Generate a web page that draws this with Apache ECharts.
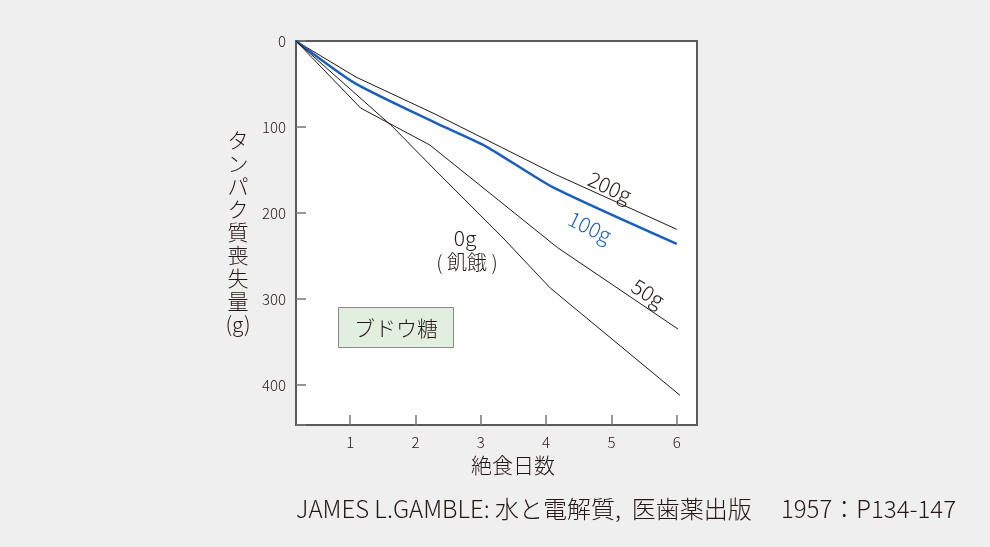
<!DOCTYPE html>
<html>
<head>
<meta charset="utf-8">
<script src="https://cdn.jsdelivr.net/npm/echarts@6/dist/echarts.min.js"></script>
<style>
html,body{margin:0;padding:0;background:#efefef;}
#c{width:990px;height:547px;}
</style>
</head>
<body>
<div id="c"></div>
<script>
// ---- data (days of fasting, protein loss in g) ----
const xTicks = [1, 2, 3, 4, 5, 6];
const yTicks = [0, 100, 200, 300, 400];

const days200 = [0.17, 1.09, 2.30, 4.14, 6.00];
const loss200 = [0, 42, 85, 155, 219];

const days100 = [0.17, 1.07, 2.30, 3.09, 4.10, 6.00];
const loss100 = [0, 49, 95, 123, 170, 236];

const days50 = [0.17, 1.16, 2.22, 4.17, 6.02];
const loss50 = [0, 78, 121, 240, 335];

const days0 = [0.17, 1.64, 2.30, 3.34, 4.06, 6.05];
const loss0 = [0, 99, 150, 229, 287, 412];

const seriesNames = ['200g', '100g', '50g', '0g'];
const xTitle = '絶食日数';
const yTitle = ['タ','ン','パ','ク','質','喪','失','量','(g)'];
const legendText = 'ブドウ糖';
const sourceText = 'JAMES L.GAMBLE: 水と電解質,  医歯薬出版　 1957：P134-147';

const pair = (xs, ys) => xs.map((x, i) => [x, ys[i]]);

const FONT = '"Noto Sans CJK JP", "Noto Sans", sans-serif';
const INK = '#231815';
const BLUE = '#1a5fbd';
const W = '300 ';

const chart = echarts.init(document.getElementById('c'), null, {renderer: 'canvas'});
chart.setOption({
  backgroundColor: '#efefef',
  animation: false,
  textStyle: {fontFamily: FONT, color: INK},
  grid: {
    left: 296, top: 41, right: 293, bottom: 122,
    show: true, backgroundColor: '#ffffff', borderColor: '#5a5a5a', borderWidth: 2
  },
  xAxis: {
    type: 'value', min: 0.17, max: 6.31, position: 'bottom',
    axisLine: {show: false, onZero: false},
    splitLine: {show: false},
    axisTick: {show: true, inside: true, length: 10, customValues: xTicks, lineStyle: {color: '#777', width: 1.5}},
    axisLabel: {customValues: xTicks, fontSize: 15, color: INK, margin: 10, fontFamily: FONT, fontWeight: 300}
  },
  yAxis: {
    type: 'value', inverse: true, min: 0, max: 446.5, interval: 100,
    axisLine: {show: false, onZero: false},
    splitLine: {show: false},
    axisTick: {show: true, inside: true, length: 10, lineStyle: {color: '#777', width: 1.5}},
    axisLabel: {fontSize: 15, color: INK, margin: 10, fontFamily: FONT, fontWeight: 300,
      formatter: v => (yTicks.indexOf(v) >= 0 ? String(v) : '')}
  },
  series: [
    {name: seriesNames[0], type: 'line', data: pair(days200, loss200), symbol: 'none', lineStyle: {color: INK, width: 1}},
    {name: seriesNames[1], type: 'line', data: pair(days100, loss100), symbol: 'none', smooth: 0.2, lineStyle: {color: BLUE, width: 2.5}},
    {name: seriesNames[2], type: 'line', data: pair(days50, loss50), symbol: 'none', lineStyle: {color: INK, width: 1}},
    {name: seriesNames[3], type: 'line', data: pair(days0, loss0), symbol: 'none', lineStyle: {color: INK, width: 1}}
  ],
  graphic: [
    {type: 'text', x: 610, y: 187, rotation: -0.43, style: {text: seriesNames[0], font: W + '21px ' + FONT, fill: INK, align: 'center', verticalAlign: 'middle'}},
    {type: 'text', x: 590, y: 227, rotation: -0.45, style: {text: seriesNames[1], font: W + '21px ' + FONT, fill: BLUE, align: 'center', verticalAlign: 'middle'}},
    {type: 'text', x: 648, y: 293, rotation: -0.56, style: {text: seriesNames[2], font: W + '21px ' + FONT, fill: INK, align: 'center', verticalAlign: 'middle'}},
    {type: 'text', x: 465, y: 238, style: {text: seriesNames[3], font: W + '21px ' + FONT, fill: INK, align: 'center', verticalAlign: 'middle'}},
    {type: 'text', x: 467, y: 262, style: {text: '( 飢餓 )', font: W + '20px ' + FONT, fill: INK, align: 'center', verticalAlign: 'middle'}},
    {type: 'rect', shape: {x: 338.5, y: 307.5, width: 115, height: 40}, style: {fill: '#e2efe0', stroke: '#8a8a8a', lineWidth: 1}},
    {type: 'text', x: 396, y: 328, style: {text: legendText, font: W + '21px ' + FONT, fill: INK, align: 'center', verticalAlign: 'middle'}},
    {type: 'text', x: 513, y: 465, style: {text: xTitle, font: W + '21px ' + FONT, fill: INK, align: 'center', verticalAlign: 'middle'}},
    {type: 'text', x: 238, y: 232, style: {text: yTitle.join('\n'), font: W + '21px ' + FONT, lineHeight: 23, fill: INK, align: 'center', verticalAlign: 'middle'}},
    {type: 'text', x: 296, y: 509, style: {text: sourceText, font: W + '24px ' + FONT, fill: INK, align: 'left', verticalAlign: 'middle'}}
  ]
});
</script>
</body>
</html>
